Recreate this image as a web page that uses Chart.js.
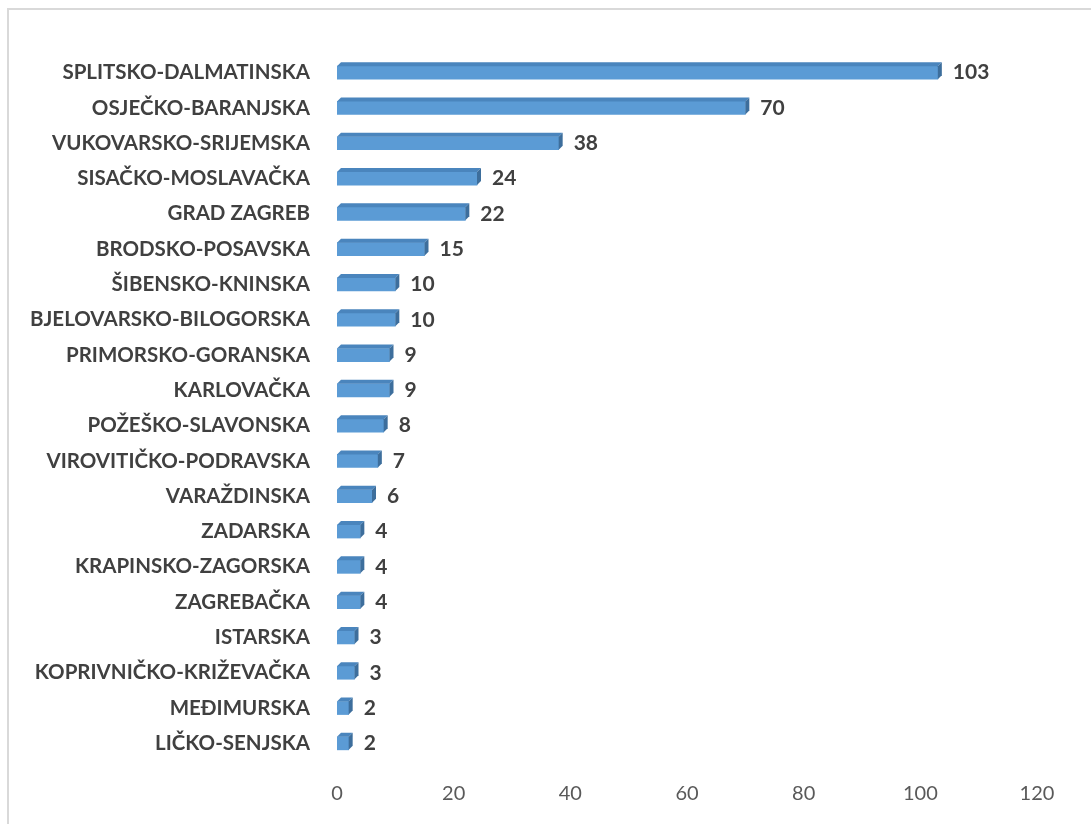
<!DOCTYPE html>
<html>
<head>
<meta charset="utf-8">
<script src="https://cdn.jsdelivr.net/npm/chart.js@4/dist/chart.umd.min.js"></script>
<style>
    html, body { margin: 0; padding: 0; background: #fff; }
    #wrap { position: relative; width: 1091px; height: 824px; overflow: hidden; }
    #frame {
        position: absolute; left: 7px; top: 8px; width: 1200px; height: 1000px;
        border: 2px solid #d9d9d9; box-sizing: border-box;
    }
    canvas { position: absolute; left: 0; top: 0; }
</style>
</head>
<body>
<div id="wrap">
    <div id="frame"></div>
    <canvas id="chart" width="1091" height="824"></canvas>
</div>
<script>
// Counties, sorted as in the source chart (largest first)
const counties = [
    'SPLITSKO-DALMATINSKA', 'OSJEČKO-BARANJSKA', 'VUKOVARSKO-SRIJEMSKA',
    'SISAČKO-MOSLAVAČKA', 'GRAD ZAGREB', 'BRODSKO-POSAVSKA',
    'ŠIBENSKO-KNINSKA', 'BJELOVARSKO-BILOGORSKA', 'PRIMORSKO-GORANSKA',
    'KARLOVAČKA', 'POŽEŠKO-SLAVONSKA', 'VIROVITIČKO-PODRAVSKA',
    'VARAŽDINSKA', 'ZADARSKA', 'KRAPINSKO-ZAGORSKA', 'ZAGREBAČKA',
    'ISTARSKA', 'KOPRIVNIČKO-KRIŽEVAČKA', 'MEĐIMURSKA', 'LIČKO-SENJSKA'
];
const counts = [103, 70, 38, 24, 22, 15, 10, 10, 9, 9, 8, 7, 6, 4, 4, 4, 3, 3, 2, 2];
const xTicks = [0, 20, 40, 60, 80, 100, 120];

const DEPTH = 4;

// fake the Excel 3D look: top + side faces, then the value label
const bar3d = {
    id: 'bar3d',
    afterDatasetsDraw(chart) {
        const ctx = chart.ctx;
        const meta = chart.getDatasetMeta(0);
        ctx.save();
        meta.data.forEach((bar, i) => {
            const p = bar.getProps(['x', 'y', 'base', 'height'], true);
            const x0 = p.base, x1 = p.x;
            const top = p.y - p.height / 2, bottom = p.y + p.height / 2;

            ctx.fillStyle = '#4a85bd';
            ctx.beginPath();
            ctx.moveTo(x0, top);
            ctx.lineTo(x0 + DEPTH, top - DEPTH);
            ctx.lineTo(x1 + DEPTH, top - DEPTH);
            ctx.lineTo(x1, top);
            ctx.closePath();
            ctx.fill();

            ctx.fillStyle = '#3d6e9c';
            ctx.beginPath();
            ctx.moveTo(x1, top);
            ctx.lineTo(x1 + DEPTH, top - DEPTH);
            ctx.lineTo(x1 + DEPTH, bottom - DEPTH);
            ctx.lineTo(x1, bottom);
            ctx.closePath();
            ctx.fill();

            ctx.fillStyle = '#404040';
            ctx.font = 'bold 21px Lato';
            ctx.textAlign = 'left';
            ctx.textBaseline = 'middle';
            ctx.fillText(String(counts[i]), x1 + DEPTH + 11, p.y);
        });
        ctx.restore();
    }
};

new Chart(document.getElementById('chart'), {
    type: 'bar',
    data: {
        labels: counties,
        datasets: [{
            data: counts,
            backgroundColor: '#5b9bd5',
            borderWidth: 0,
            barThickness: 13
        }]
    },
    options: {
        indexAxis: 'y',
        responsive: false,
        animation: false,
        layout: { padding: { top: 55, right: 54, left: 0, bottom: 0 } },
        plugins: {
            legend: { display: false },
            tooltip: { enabled: false }
        },
        scales: {
            x: {
                min: 0,
                max: 120,
                afterBuildTicks: (axis) => { axis.ticks = xTicks.map(v => ({ value: v })); },
                grid: { display: false, drawTicks: false },
                border: { display: false },
                ticks: {
                    padding: 21,
                    color: '#595959',
                    font: { family: 'Lato', size: 20 }
                },
                afterFit: (axis) => { axis.height = 63; }
            },
            y: {
                grid: { display: false, drawTicks: false },
                border: { display: false },
                ticks: {
                    padding: 27,
                    color: '#404040',
                    font: { family: 'Lato', size: 20.5, weight: 'bold' },
                    autoSkip: false
                },
                afterFit: (axis) => { axis.width = 337; }
            }
        }
    },
    plugins: [bar3d]
});
</script>
</body>
</html>
